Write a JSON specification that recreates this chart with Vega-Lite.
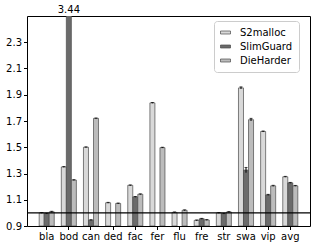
{
  "$schema": "https://vega.github.io/schema/vega-lite/v6.json",
  "width": 283,
  "height": 210,
  "autosize": {"type": "none"},
  "padding": {"left": 27, "top": 16, "right": 6, "bottom": 22},
  "config": {
    "view": {"stroke": "#000", "strokeWidth": 1},
    "font": "DejaVu Sans",
    "axis": {"labelFont": "DejaVu Sans", "labelFontSize": 10, "labelColor": "#000", "tickColor": "#000", "tickSize": 3.5, "domain": false, "grid": false, "title": null, "labelOverlap": false, "labelFlush": false},
    "axisY": {"labelOverlap": false},
    "legend": {"labelFont": "DejaVu Sans"}
  },
  "data": {
    "values": [
      {"bench": "bla", "alloc": "S2malloc", "v": 1.0, "lo": 0.997, "hi": 1.003},
      {"bench": "bla", "alloc": "SlimGuard", "v": 0.995, "lo": 0.992, "hi": 0.998},
      {"bench": "bla", "alloc": "DieHarder", "v": 1.008, "lo": 1.004, "hi": 1.012},
      {"bench": "bod", "alloc": "S2malloc", "v": 1.35, "lo": 1.347, "hi": 1.353},
      {"bench": "bod", "alloc": "SlimGuard", "v": 3.44, "lo": 3.43, "hi": 3.45},
      {"bench": "bod", "alloc": "DieHarder", "v": 1.25, "lo": 1.247, "hi": 1.253},
      {"bench": "can", "alloc": "S2malloc", "v": 1.5, "lo": 1.497, "hi": 1.503},
      {"bench": "can", "alloc": "SlimGuard", "v": 0.945, "lo": 0.942, "hi": 0.948},
      {"bench": "can", "alloc": "DieHarder", "v": 1.72, "lo": 1.717, "hi": 1.723},
      {"bench": "ded", "alloc": "S2malloc", "v": 1.077, "lo": 1.074, "hi": 1.08},
      {"bench": "ded", "alloc": "DieHarder", "v": 1.072, "lo": 1.069, "hi": 1.075},
      {"bench": "fac", "alloc": "S2malloc", "v": 1.21, "lo": 1.207, "hi": 1.213},
      {"bench": "fac", "alloc": "SlimGuard", "v": 1.122, "lo": 1.119, "hi": 1.125},
      {"bench": "fac", "alloc": "DieHarder", "v": 1.142, "lo": 1.139, "hi": 1.145},
      {"bench": "fer", "alloc": "S2malloc", "v": 1.838, "lo": 1.835, "hi": 1.841},
      {"bench": "fer", "alloc": "DieHarder", "v": 1.497, "lo": 1.494, "hi": 1.5},
      {"bench": "flu", "alloc": "S2malloc", "v": 1.004, "lo": 1.001, "hi": 1.007},
      {"bench": "flu", "alloc": "DieHarder", "v": 1.02, "lo": 1.017, "hi": 1.023},
      {"bench": "fre", "alloc": "S2malloc", "v": 0.943, "lo": 0.94, "hi": 0.946},
      {"bench": "fre", "alloc": "SlimGuard", "v": 0.955, "lo": 0.952, "hi": 0.958},
      {"bench": "fre", "alloc": "DieHarder", "v": 0.946, "lo": 0.943, "hi": 0.949},
      {"bench": "str", "alloc": "S2malloc", "v": 1.0, "lo": 0.997, "hi": 1.003},
      {"bench": "str", "alloc": "SlimGuard", "v": 0.994, "lo": 0.991, "hi": 0.997},
      {"bench": "str", "alloc": "DieHarder", "v": 1.007, "lo": 1.004, "hi": 1.01},
      {"bench": "swa", "alloc": "S2malloc", "v": 1.952, "lo": 1.944, "hi": 1.96},
      {"bench": "swa", "alloc": "SlimGuard", "v": 1.326, "lo": 1.306, "hi": 1.346},
      {"bench": "swa", "alloc": "DieHarder", "v": 1.71, "lo": 1.7, "hi": 1.72},
      {"bench": "vip", "alloc": "S2malloc", "v": 1.62, "lo": 1.616, "hi": 1.624},
      {"bench": "vip", "alloc": "SlimGuard", "v": 1.137, "lo": 1.133, "hi": 1.141},
      {"bench": "vip", "alloc": "DieHarder", "v": 1.206, "lo": 1.202, "hi": 1.21},
      {"bench": "avg", "alloc": "S2malloc", "v": 1.275, "lo": 1.272, "hi": 1.278},
      {"bench": "avg", "alloc": "SlimGuard", "v": 1.229, "lo": 1.226, "hi": 1.232},
      {"bench": "avg", "alloc": "DieHarder", "v": 1.206, "lo": 1.203, "hi": 1.209}
    ]
  },
  "layer": [
    {
      "mark": {"type": "bar", "clip": true, "stroke": "#4a4a4a", "strokeWidth": 0.7},
      "encoding": {
        "x": {"field": "bench", "type": "nominal", "sort": null, "scale": {"paddingInner": 0.32, "paddingOuter": 0.55}, "axis": {"labelAngle": 0, "labelPadding": 2}},
        "xOffset": {"field": "alloc", "type": "nominal", "sort": ["S2malloc", "SlimGuard", "DieHarder"], "scale": {"paddingInner": 0, "paddingOuter": 0}},
        "y": {"field": "v", "type": "quantitative", "scale": {"domain": [0.9, 2.5], "zero": false, "nice": false}, "axis": {"values": [0.9, 1.1, 1.3, 1.5, 1.7, 1.9, 2.1, 2.3], "format": ".1f", "labelPadding": 2, "labelOverlap": false, "labelFlush": false}},
        "y2": {"datum": 0.9},
        "color": {
          "field": "alloc",
          "type": "nominal",
          "scale": {"domain": ["S2malloc", "SlimGuard", "DieHarder"], "range": ["#d9d9d9", "#6b6b6b", "#bcbcbc"]},
          "legend": {
            "title": null,
            "orient": "none",
            "legendX": 187,
            "legendY": 5,
            "symbolType": "M-1,-0.3H1V0.3H-1Z",
            "symbolSize": 100,
            "symbolStrokeColor": "#4a4a4a",
            "symbolStrokeWidth": 0.7,
            "symbolOpacity": 1,
            "labelFontSize": 10,
            "labelColor": "#000",
            "labelOffset": 9,
            "rowPadding": 3,
            "padding": 6,
            "strokeColor": "#cccccc",
            "fillColor": "#ffffff",
            "cornerRadius": 3
          }
        }
      }
    },
    {
      "mark": {"type": "rule", "clip": true, "color": "#000", "strokeWidth": 1},
      "encoding": {
        "x": {"field": "bench", "type": "nominal", "sort": null, "axis": {"labelAngle": 0, "labelPadding": 2}},
        "xOffset": {"field": "alloc", "type": "nominal", "sort": ["S2malloc", "SlimGuard", "DieHarder"]},
        "y": {"field": "lo", "type": "quantitative", "axis": {"values": [0.9, 1.1, 1.3, 1.5, 1.7, 1.9, 2.1, 2.3], "format": ".1f", "labelPadding": 2, "labelOverlap": false, "labelFlush": false}},
        "y2": {"field": "hi"}
      }
    },
    {
      "mark": {"type": "tick", "clip": true, "color": "#000", "size": 3, "thickness": 1},
      "encoding": {
        "x": {"field": "bench", "type": "nominal", "sort": null, "axis": {"labelAngle": 0, "labelPadding": 2}},
        "xOffset": {"field": "alloc", "type": "nominal", "sort": ["S2malloc", "SlimGuard", "DieHarder"]},
        "y": {"field": "hi", "type": "quantitative", "axis": {"values": [0.9, 1.1, 1.3, 1.5, 1.7, 1.9, 2.1, 2.3], "format": ".1f", "labelPadding": 2, "labelOverlap": false, "labelFlush": false}}
      }
    },
    {
      "transform": [{"filter": "datum.v > 2.5"}],
      "mark": {"type": "text", "baseline": "bottom", "dy": -1, "fontSize": 10, "color": "#000", "font": "DejaVu Sans"},
      "encoding": {
        "x": {"field": "bench", "type": "nominal", "sort": null, "axis": {"labelAngle": 0, "labelPadding": 2}},
        "xOffset": {"field": "alloc", "type": "nominal", "sort": ["S2malloc", "SlimGuard", "DieHarder"]},
        "y": {"datum": 2.5, "axis": {"values": [0.9, 1.1, 1.3, 1.5, 1.7, 1.9, 2.1, 2.3], "format": ".1f", "labelPadding": 2, "labelOverlap": false, "labelFlush": false}},
        "text": {"field": "v", "type": "quantitative", "format": ".2f"}
      }
    },
    {
      "data": {"values": [{"ref": 1.0}]},
      "mark": {"type": "rule", "color": "#000", "strokeWidth": 1.2},
      "encoding": {"y": {"field": "ref", "type": "quantitative", "axis": {"values": [0.9, 1.1, 1.3, 1.5, 1.7, 1.9, 2.1, 2.3], "format": ".1f", "labelPadding": 2, "labelOverlap": false, "labelFlush": false}}}
    }
  ]
}
